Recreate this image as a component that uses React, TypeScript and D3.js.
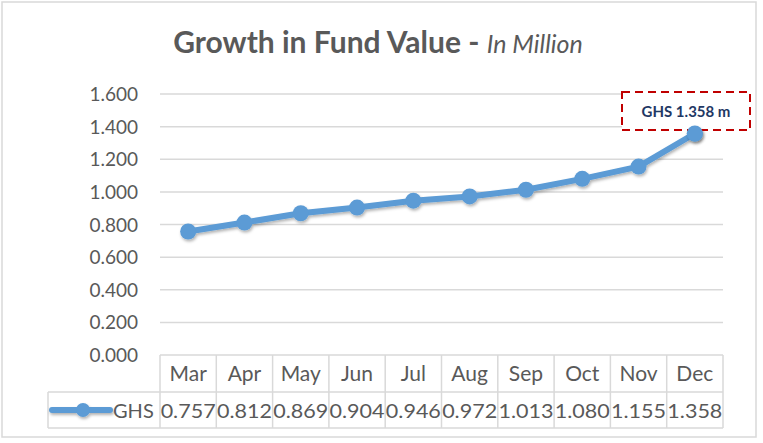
import React from "react";
import * as d3 from "d3";

const months = ["Mar", "Apr", "May", "Jun", "Jul", "Aug", "Sep", "Oct", "Nov", "Dec"];
const ghs = [0.757, 0.812, 0.869, 0.904, 0.946, 0.972, 1.013, 1.08, 1.155, 1.358];
const yTicks = [0, 0.2, 0.4, 0.6, 0.8, 1.0, 1.2, 1.4, 1.6];
const seriesName = "GHS";
const titleMain = "Growth in Fund Value - ";
const titleSub = "In Million";
const callout = "GHS 1.358 m";

const W = 763, H = 443;
const FONT = "Lato, 'Open Sans', sans-serif";

export default function App() {
  const left = 160, right = 723, top = 94, bottom = 355;
  const x = d3.scaleBand<string>().domain(months).range([left, right]);
  const y = d3.scaleLinear().domain([0, 1.6]).range([bottom, top]);
  const cx = (m: string) => (x(m) as number) + x.bandwidth() / 2;
  const line = d3.line<number>().x((_, i) => cx(months[i])).y((d) => y(d));
  const row1 = bottom, row2 = 392, row3 = 428;
  const legendLeft = 48;
  const grey = "#595959";
  const gridC = "#d9d9d9";
  const last = ghs.length - 1;

  return (
    <svg width={W} height={H} style={{ position: "absolute", left: 0, top: 0 }}>
      <defs>
        <filter id="sh" x="-50%" y="-50%" width="200%" height="200%">
          <feDropShadow dx="1" dy="2" stdDeviation="1.5" floodColor="#000" floodOpacity="0.3" />
        </filter>
      </defs>
      <rect x={2} y={2} width={754} height={435} fill="#fff" stroke="#d9d9d9" strokeWidth={1.5} />
      <text x={378} y={53} textAnchor="middle" fontFamily={FONT} fill={grey}>
        <tspan fontSize={30} fontWeight="bold">{titleMain}</tspan>
        <tspan fontSize={25} fontStyle="italic">{titleSub}</tspan>
      </text>
      {yTicks.map((t) => (
        <g key={t}>
          {t > 0 && <line x1={left} x2={right} y1={y(t)} y2={y(t)} stroke={gridC} strokeWidth={1.5} />}
          <text x={138} y={y(t) + 7} textAnchor="end" fontFamily={FONT} fontSize={19} fill={grey}>
            {t.toFixed(3)}
          </text>
        </g>
      ))}
      {/* table */}
      <line x1={left} x2={right} y1={row1} y2={row1} stroke={gridC} strokeWidth={1.5} />
      <line x1={legendLeft} x2={right} y1={row2} y2={row2} stroke={gridC} strokeWidth={1.5} />
      <line x1={legendLeft} x2={right} y1={row3} y2={row3} stroke={gridC} strokeWidth={1.5} />
      <line x1={legendLeft} x2={legendLeft} y1={row2} y2={row3} stroke={gridC} strokeWidth={1.5} />
      {months.map((m) => (
        <line key={"v" + m} x1={x(m) as number} x2={x(m) as number} y1={row1} y2={row3} stroke={gridC} strokeWidth={1.5} />
      ))}
      <line x1={right} x2={right} y1={row1} y2={row3} stroke={gridC} strokeWidth={1.5} />
      {months.map((m, i) => (
        <g key={"t" + m}>
          <text x={cx(m)} y={381} textAnchor="middle" fontFamily={FONT} fontSize={21} fill={grey}>{m}</text>
          <text x={cx(m)} y={418} textAnchor="middle" fontFamily={FONT} fontSize={20} fill={grey}
            textLength={55} lengthAdjust="spacingAndGlyphs">{ghs[i].toFixed(3)}</text>
        </g>
      ))}
      <g filter="url(#sh)">
        <line x1={52} x2={110} y1={410} y2={410} stroke="#5B9BD5" strokeWidth={6} strokeLinecap="round" />
        <circle cx={83} cy={410} r={7} fill="#5B9BD5" />
      </g>
      <text x={113} y={418} fontFamily={FONT} fontSize={20} fill={grey}>{seriesName}</text>
      {/* series */}
      <g filter="url(#sh)">
        <path d={line(ghs) || ""} fill="none" stroke="#5B9BD5" strokeWidth={6} strokeLinejoin="round" />
        {ghs.map((v, i) => (
          <circle key={i} cx={cx(months[i])} cy={y(v)} r={8} fill="#5B9BD5" />
        ))}
      </g>
      {/* callout */}
      <rect x={622} y={92} width={128} height={38} fill="#fff" stroke="#C00000" strokeWidth={2} strokeDasharray="8,5" />
      <text x={686} y={117} textAnchor="middle" fontFamily={FONT} fontSize={15} fontWeight="bold" fill="#1F3864">
        {callout}
      </text>
      <circle cx={cx(months[last])} cy={y(ghs[last])} r={8} fill="#5B9BD5" filter="url(#sh)" />
    </svg>
  );
}
